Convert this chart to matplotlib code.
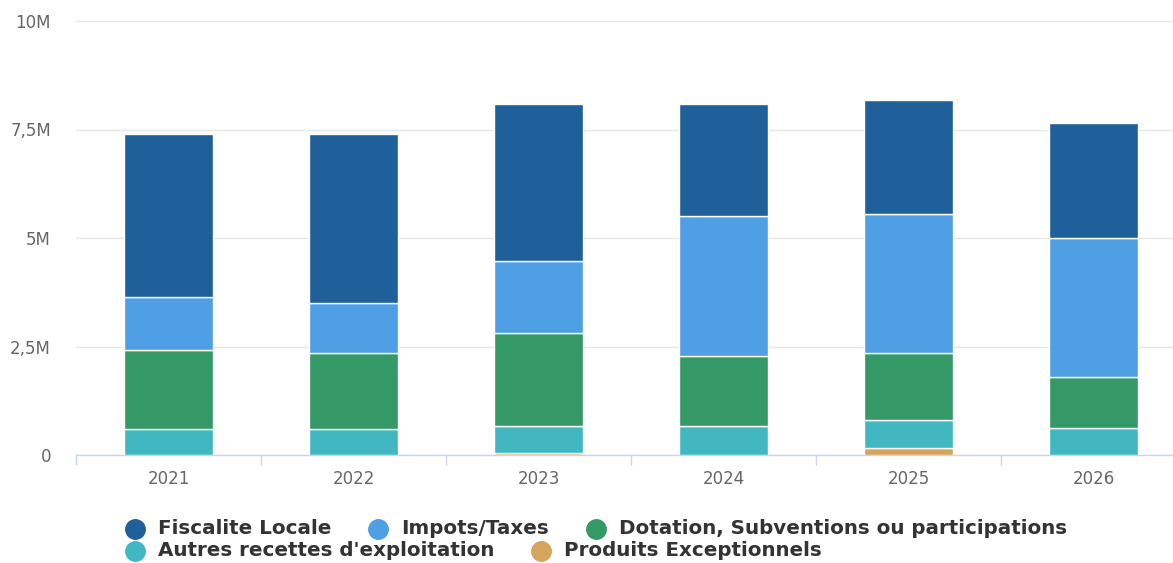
import matplotlib
matplotlib.use('Agg')
import matplotlib.pyplot as plt
import numpy as np
from matplotlib.lines import Line2D

# Data (millions)
years = ['2021', '2022', '2023', '2024', '2025', '2026']
series_names = ['Fiscalite Locale', 'Impots/Taxes', 'Dotation, Subventions ou participations',
                "Autres recettes d'exploitation", 'Produits Exceptionnels']
colors = ['#1f5f9a', '#4f9fe5', '#349967', '#41b8c1', '#d4a55a']

produits_exc = [0.0, 0.0, 0.04, 0.0, 0.17, 0.0]
autres_recettes = [0.59, 0.59, 0.62, 0.66, 0.64, 0.63]
dotation = [1.84, 1.76, 2.14, 1.63, 1.53, 1.16]
impots_taxes = [1.20, 1.16, 1.68, 3.22, 3.22, 3.22]
fiscalite_locale = [3.77, 3.88, 3.61, 2.58, 2.61, 2.65]

# stacking order bottom -> top
stack = [(produits_exc, 4), (autres_recettes, 3), (dotation, 2), (impots_taxes, 1), (fiscalite_locale, 0)]

W, H = 1173, 563
fig = plt.figure(figsize=(W / 100, H / 100), dpi=100)
ax = fig.add_axes([76 / W, 1 - 455 / H, (W - 76) / W, (455 - 21) / H])

x = np.arange(len(years))
bottom = np.zeros(len(years))
for vals, ci in stack:
    v = np.array(vals) * 1e6
    ax.bar(x, v, width=0.48, bottom=bottom, color=colors[ci], edgecolor='white', linewidth=1, zorder=3)
    bottom += v

ax.set_yticks([0, 2.5e6, 5e6, 7.5e6, 10e6])
ax.set_yticklabels(['0', '2,5M', '5M', '7,5M', '10M'])
ax.yaxis.grid(True, color='#e6e6e6', linewidth=1, zorder=0)
ax.tick_params(axis='y', length=0, pad=18, labelsize=12, labelcolor='#666666')

ax.set_xticks(x)
ax.set_xticklabels(years)
ax.set_xticks(np.arange(-0.5, 5.0, 1.0), minor=True)
ax.tick_params(axis='x', which='major', length=0, pad=11, labelsize=12, labelcolor='#666666')
ax.tick_params(axis='x', which='minor', length=7, width=1, color='#ccd6eb', direction='out')

ax.set_ylim(0, 10e6)
ax.set_xlim(-0.5, -0.5 + (W - 76) / 185)

for s in ['top', 'right', 'left']:
    ax.spines[s].set_visible(False)
ax.spines['bottom'].set_color('#ccd6eb')
ax.spines['bottom'].set_linewidth(1)

# Legend (flow layout, two rows)
fig.canvas.draw()
renderer = fig.canvas.get_renderer()
rows = [[0, 1, 2], [3, 4]]
row_y = [529, 551]
for r, items in enumerate(rows):
    px = 135
    for i in items:
        yy = 1 - row_y[r] / H
        fig.add_artist(Line2D([px / W], [yy], marker='o', markersize=14, color=colors[i],
                              linestyle='none', transform=fig.transFigure))
        t = fig.text((px + 23) / W, yy, series_names[i], fontsize=14.35, fontweight='bold',
                     color='#333333', va='center', ha='left')
        wpx = t.get_window_extent(renderer).width
        px = px + 23 + wpx + 47

fig.savefig('out.png', dpi=100, facecolor='white')
